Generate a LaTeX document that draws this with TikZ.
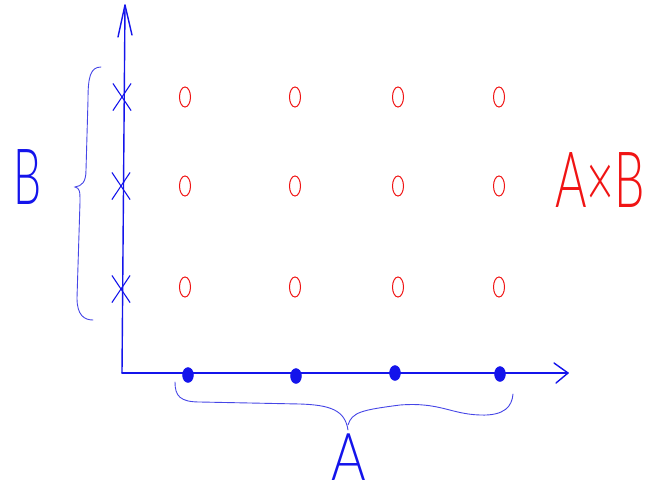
\documentclass[tikz,border=0pt]{standalone}
\usepackage{fontspec}
\setmainfont{Lato Light}
\usetikzlibrary{shapes.geometric,shapes.misc,calc}
\definecolor{pen}{RGB}{20,20,235}
\definecolor{penlight}{RGB}{70,70,230}
\definecolor{redpen}{RGB}{240,20,20}
\tikzset{
  axisline/.style={draw=pen,line width=1.4pt,line cap=round,line join=round},
  braceline/.style={draw=penlight,line width=0.9pt,line cap=round},
  crossmark/.style={cross out,draw=pen,line width=1.1pt,minimum width=17pt,minimum height=26pt,inner sep=0pt},
  dotmark/.style={ellipse,draw=pen,fill=pen,line width=1.5pt,minimum width=10pt,minimum height=14pt,inner sep=0pt},
  pairmark/.style={ellipse,draw=redpen,line width=1pt,minimum width=11pt,minimum height=20pt,inner sep=0pt},
  bluelabel/.style={text=pen,inner sep=0pt,font=\fontsize{74}{74}\selectfont},
  redlabel/.style={text=redpen,inner sep=0pt,font=\fontsize{74}{74}\selectfont},
}
\begin{document}
\begin{tikzpicture}[x=1pt,y=-1pt]
\useasboundingbox (0,0) rectangle (654,493);
% axes
\coordinate (O) at (122,373);
\coordinate (ytop) at (125,5);
\coordinate (xend) at (568,373);
\draw[axisline] (O) -- (ytop);
\draw[axisline] (O) -- (xend);
\draw[axisline] ($(ytop)+(-7,32)$) -- (ytop) -- ($(ytop)+(7,30)$);
\draw[axisline] ($(xend)+(-14,-10)$) -- (xend) -- ($(xend)+(-12,10)$);
% crosses (B)
\node[crossmark] (b1) at (122,97) {};
\node[crossmark] (b2) at (121,186) {};
\node[crossmark] (b3) at (121,289) {};
% dots (A)
\node[dotmark] (a1) at (188,375) {};
\node[dotmark] (a2) at (296,376) {};
\node[dotmark] (a3) at (395,373) {};
\node[dotmark] (a4) at (500,374) {};
% pairs A x B
\foreach \r/\y in {1/97,2/186,3/287}{
  \foreach \c/\x in {1/185,2/295,3/398,4/499}{
    \node[pairmark] (p\r\c) at (\x,\y) {};
  }
}
% left brace
\draw[braceline] (101,67) .. controls (90,67) and (88,78) .. (88,100)
  -- (86,170) .. controls (86,182) and (82,186) .. (75,187)
  .. controls (80,188) and (80,192) .. (80,202)
  -- (77,298) .. controls (77,315) and (84,320) .. (93,320);
% bottom brace
\draw[braceline] (175,382) .. controls (175,396) and (180,402) .. (200,402)
  -- (300,404) .. controls (330,405) and (345,410) .. (348,430);
\draw[braceline] (348,425) .. controls (352,412) and (362,410) .. (400,405)
  .. controls (440,402) and (450,414) .. (480,415)
  .. controls (505,416) and (512,406) .. (513,394);
% labels
\node[bluelabel] (Blab) at (28,177) {\scalebox{0.6}[1.05]{B}};
\node[bluelabel,font=\fontsize{66}{66}\selectfont] (Alab) at (349,457) {\scalebox{0.8}[1]{A}};
\node[redlabel] (AxB) at (600,180) {\scalebox{0.65}[1.05]{A×B}};
\end{tikzpicture}
\end{document}
